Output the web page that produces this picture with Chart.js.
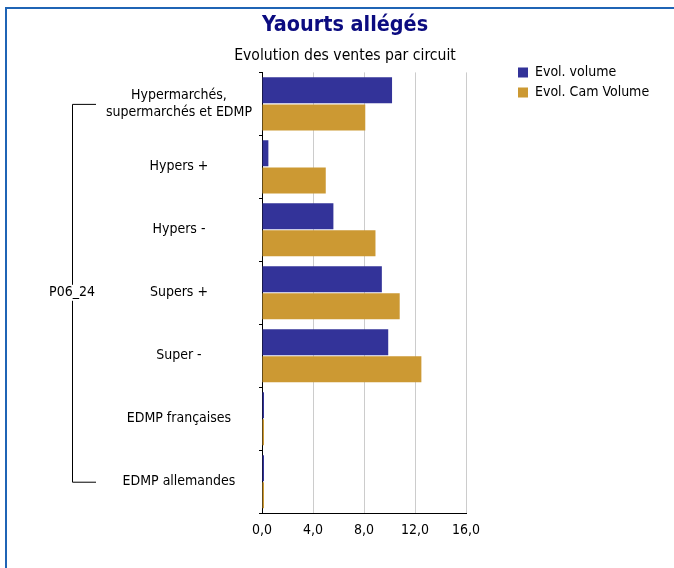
<!DOCTYPE html>
<html>
<head>
<meta charset="utf-8">
<script src="https://cdn.jsdelivr.net/npm/chart.js@4.4.1/dist/chart.umd.min.js"></script>
<style>
    body { margin: 0; background: white; }
    #wrap { position: relative; width: 674px; height: 568px; }
    #frame { position: absolute; left: 5px; top: 7px; right: 0; bottom: 0;
        border-left: 2px solid #1f64b5; border-top: 2px solid #1f64b5; }
    canvas { position: absolute; left: 0; top: 0; }
</style>
</head>
<body>
<div id="wrap">
    <div id="frame"></div>
    <canvas id="barChart" width="674" height="568"></canvas>
</div>
<script>
const circuits = [
    ['Hypermarchés,', 'supermarchés et EDMP'],
    'Hypers +',
    'Hypers -',
    'Supers +',
    'Super -',
    'EDMP françaises',
    'EDMP allemandes'
];
const groupLabel = 'P06_24';
const evolVolume = [10.2, 0.5, 5.6, 9.4, 9.9, 0, 0];
const evolCamVolume = [8.1, 5.0, 8.9, 10.8, 12.5, 0, 0];
const xTicks = [0, 4, 8, 12, 16];

const fontFamily = "'DejaVu Sans Condensed', 'DejaVu Sans', sans-serif";
Chart.defaults.font.family = fontFamily;
Chart.defaults.color = '#000000';

// legend sits right of the plot with a gap, like the original
const legendGap = {
    id: 'legendGap',
    beforeLayout(chart) {
        const legend = chart.legend;
        if (!legend || legend._patched) return;
        const fit = legend.fit;
        legend.fit = function () {
            fit.call(this);
            this.width = 208;
        };
        legend._patched = true;
    },
    afterLayout(chart) {
        chart.legend.left = chart.chartArea.right + 46;
        chart.legend.top = chart.chartArea.top - 13;
    }
};

// bracket + group label left of the categories
const groupBracket = {
    id: 'groupBracket',
    afterDraw(chart) {
        const ctx = chart.ctx;
        const y = chart.scales.y;
        const top = y.getPixelForValue(0);
        const bottom = y.getPixelForValue(circuits.length - 1);
        const mid = (top + bottom) / 2;
        const x = 72;
        ctx.save();
        ctx.strokeStyle = '#000000';
        ctx.lineWidth = 1;
        ctx.beginPath();
        ctx.moveTo(x + 24, top + 0.5);
        ctx.lineTo(x + 0.5, top + 0.5);
        ctx.lineTo(x + 0.5, mid - 8);
        ctx.moveTo(x + 0.5, mid + 8);
        ctx.lineTo(x + 0.5, bottom + 0.5);
        ctx.lineTo(x + 24, bottom + 0.5);
        ctx.stroke();
        ctx.fillStyle = '#000000';
        ctx.font = '14px ' + fontFamily;
        ctx.textAlign = 'center';
        ctx.textBaseline = 'middle';
        ctx.fillText(groupLabel, x, mid);
        ctx.restore();
    }
};

const configBar = {
    type: 'bar',
    data: {
        labels: circuits,
        datasets: [
            {
                label: 'Evol. volume',
                data: evolVolume,
                backgroundColor: '#333399'
            },
            {
                label: 'Evol. Cam Volume',
                data: evolCamVolume,
                backgroundColor: '#cc9933'
            }
        ]
    },
    options: {
        indexAxis: 'y',
        responsive: false,
        animation: false,
        layout: {
            padding: { left: 16, bottom: 20 }
        },
        datasets: {
            bar: {
                categoryPercentage: 0.86,
                barPercentage: 0.96,
                minBarLength: 2
            }
        },
        plugins: {
            title: {
                display: true,
                text: 'Yaourts allégés',
                color: '#0b0b80',
                font: { size: 21.4, weight: 'bold' },
                padding: { top: 13, bottom: 0 }
            },
            subtitle: {
                display: true,
                text: 'Evolution des ventes par circuit',
                color: '#000000',
                font: { size: 15.6 },
                padding: { top: 8, bottom: 7 }
            },
            legend: {
                position: 'right',
                align: 'start',
                labels: {
                    boxWidth: 10,
                    boxHeight: 10,
                    padding: 6,
                    color: '#000000',
                    font: { size: 14 }
                }
            },
            tooltip: { enabled: false }
        },
        scales: {
            x: {
                min: 0,
                max: 16,
                afterBuildTicks(scale) {
                    scale.ticks = xTicks.map(v => ({ value: v }));
                },
                grid: {
                    color: '#cccccc',
                    drawTicks: false
                },
                border: { color: '#000000' },
                ticks: {
                    padding: 9,
                    font: { size: 14 },
                    callback: (v) => v.toFixed(1).replace('.', ',')
                }
            },
            y: {
                afterFit(scale) {
                    scale.width = 246;
                },
                grid: {
                    drawOnChartArea: false,
                    color: '#000000',
                    tickLength: 3
                },
                border: { color: '#000000' },
                ticks: {
                    crossAlign: 'center',
                    padding: 7,
                    font: { size: 14 }
                }
            }
        }
    },
    plugins: [legendGap, groupBracket]
};

var barChart = new Chart(document.getElementById('barChart'), configBar);
</script>
</body>
</html>
